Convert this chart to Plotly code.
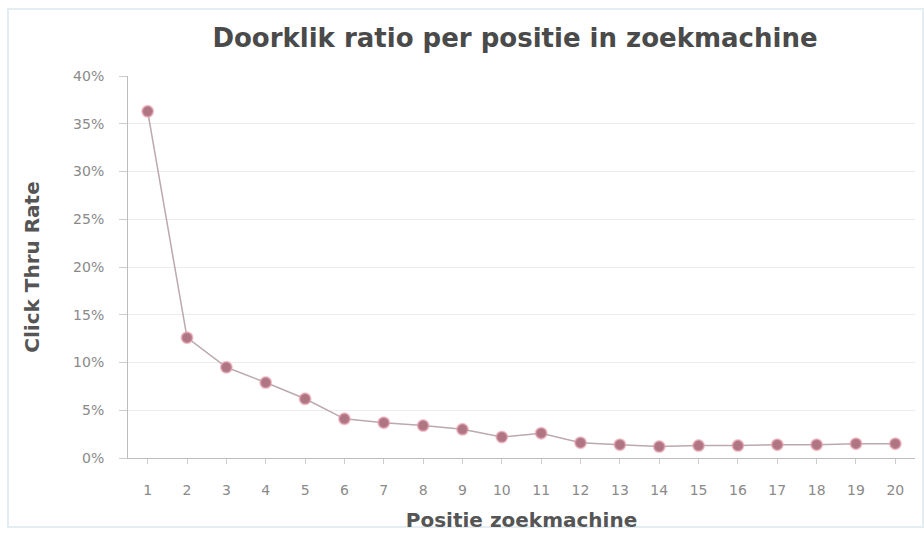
import plotly.graph_objects as go

positions = list(range(1, 21))
ctr = [36.3, 12.6, 9.5, 7.9, 6.2, 4.1, 3.7, 3.4, 3.0, 2.2,
       2.6, 1.6, 1.4, 1.2, 1.3, 1.3, 1.4, 1.4, 1.5, 1.5]
y_ticks = [0, 5, 10, 15, 20, 25, 30, 35, 40]
y_tick_labels = [f"{v}%" for v in y_ticks]

fig = go.Figure()
fig.add_trace(go.Scatter(
    x=positions, y=ctr, mode="lines+markers",
    line=dict(color="#bba9ad", width=1.5),
    marker=dict(color="#b07583", size=11, line=dict(color="rgba(230,160,175,0.6)", width=2)),
    showlegend=False,
))

fig.update_layout(
    width=924, height=536,
    margin=dict(l=128, r=9, t=76, b=78),
    paper_bgcolor="white", plot_bgcolor="white",
    title=dict(text="<b>Doorklik ratio per positie in zoekmachine</b>",
               x=515/924, xanchor="center", y=1 - 38/536, yanchor="middle",
               font=dict(family="DejaVu Sans, sans-serif", size=26, color="#4a4a4a")),
    xaxis=dict(
        range=[0.5, 20.5], tickmode="array", tickvals=positions,
        ticktext=[str(p) for p in positions],
        showgrid=False, showline=True, linecolor="#bdbdbd", linewidth=1,
        ticks="outside", ticklen=5, tickcolor="#cccccc",
        ticklabelstandoff=14,
        tickfont=dict(family="DejaVu Sans, sans-serif", size=14, color="#8a8a8a"),
        title=dict(text="<b>Positie zoekmachine</b>", standoff=16,
                   font=dict(family="DejaVu Sans, sans-serif", size=20, color="#555555")),
        zeroline=False,
    ),
    yaxis=dict(
        range=[0, 40], tickmode="array", tickvals=y_ticks, ticktext=y_tick_labels,
        showgrid=True, gridcolor="#ececec", gridwidth=1,
        showline=True, linecolor="#bdbdbd", linewidth=1,
        ticks="outside", ticklen=8, tickcolor="#cccccc",
        ticklabelstandoff=12,
        tickfont=dict(family="DejaVu Sans, sans-serif", size=14, color="#8a8a8a"),
        title=dict(text="<b>Click Thru Rate</b>", standoff=28,
                   font=dict(family="DejaVu Sans, sans-serif", size=20, color="#555555")),
        zeroline=False,
    ),
    shapes=[dict(type="rect", xref="paper", yref="paper",
                 x0=-120/787, x1=1 + 8/787,
                 y0=-69/382, y1=1 + 67/382,
                 line=dict(color="#e4edf2", width=2), layer="below")],
)

fig.write_html("out.html")
